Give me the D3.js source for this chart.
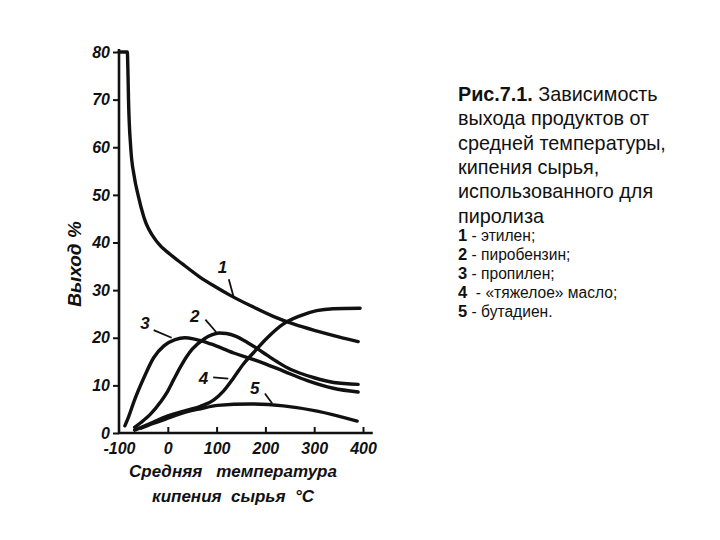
<!DOCTYPE html>
<html><head><meta charset="utf-8">
<script src="https://cdn.jsdelivr.net/npm/d3@7"></script>
<style>
body{margin:0;background:#fff;}
svg{display:block;}
.tk text{font-family:"Liberation Sans",Arial,sans-serif;font-style:italic;font-weight:bold;font-size:16px;fill:#111;}
</style></head>
<body><svg id="c" width="720" height="540"></svg>
<script>
// ---- data ----
const xTicks = [-100, 0, 100, 200, 300, 400];
const yTicks = [0, 10, 20, 30, 40, 50, 60, 70, 80];
const ethylene = [[-100,80],[-83,80],[-81.5,75],[-80.5,70],[-76,60],[-69,54],[-61,50],[-49,45.3],[-21,40],[4,37.6],[30,35.5],[65,32.8],[101,30.5],[128,28.9],[170,26.7],[216,24.5],[260,22.8],[306,21.4],[350,20.2],[390,19.2]];
const pyrobenzine = [[-68,1.2],[-55,2.2],[-35,4],[-15,6.5],[0,8.8],[12,11.2],[26,13.9],[50,17.6],[75,19.8],[90,20.6],[105,21],[120,20.9],[140,20.3],[163,19],[185,17.6],[204,16.3],[225,14.9],[245,13.7],[270,12.6],[300,11.6],[340,10.6],[390,10.2]];
const propylene = [[-88,1.5],[-80,3.5],[-69,6.7],[-49,11.6],[-29,15.8],[-8,18.3],[15,19.6],[35,20],[55,19.7],[88,18.7],[135,16.8],[185,15.1],[237,13],[286,11],[339,9.4],[390,8.6]];
const heavyOil = [[-68,0.6],[-40,1.8],[0,3.6],[40,4.8],[67,5.6],[95,7],[114,8.8],[135,11.6],[155,14.5],[175,16.8],[204,20],[237,22.9],[271,24.6],[305,25.7],[339,26.1],[394,26.2]];
const butadiene = [[-55,1],[-30,2],[0,3.1],[40,4.5],[67,5.1],[102,5.8],[169,6.1],[237,5.7],[306,4.6],[388,2.5]];
const seriesList = [ethylene, pyrobenzine, propylene, heavyOil, butadiene];
const curveLabels = ["1","2","3","4","5"];
// annotation: label point, leader start, leader end (data coords)
const labelPos = [[112,34.5],[55,24.3],[-47,22.8],[73,11.2],[178,9.2]];
const leaderFrom = [[125,32.3],[77,23.8],[-29,21.6],[93,11.7],[199,8.3]];
const leaderTo = [[135,28.5],[99,21.2],[8,20],[124,11.4],[214,6.2]];
const yTitle = "Выход %";
const xTitle1 = "Средняя   температура";
const xTitle2 = "кипения  сырья  °С";
const captionBold = "Рис.7.1.";
const captionLines = [" Зависимость","выхода продуктов от","средней температуры,","кипения сырья,","использованного для","пиролиза"];
const legendNums = ["1","2","3","4","5"];
const legendTexts = [" - этилен;"," - пиробензин;"," - пропилен;","  - «тяжелое» масло;"," - бутадиен."];

// ---- drawing ----
const svg = d3.select("#c");
const x = d3.scaleLinear().domain([-100,400]).range([119,363]);
const y = d3.scaleLinear().domain([0,80]).range([433,52]);
const ink = "#111";

// y axis
const ya = svg.append("g").attr("class","tk").attr("transform",`translate(${x(-100)},0)`)
  .call(d3.axisLeft(y).tickValues(yTicks).tickSize(6).tickPadding(3).tickFormat(d3.format("d")));
ya.select(".domain").remove();
ya.selectAll(".tick line").attr("stroke",ink).attr("stroke-width",2);
svg.append("line").attr("x1",x(-100)).attr("x2",x(-100)).attr("y1",y(80)-3).attr("y2",y(0)+1)
  .attr("stroke",ink).attr("stroke-width",2.6);

// x axis
const xa = svg.append("g").attr("class","tk").attr("transform",`translate(0,${y(0)})`)
  .call(d3.axisBottom(x).tickValues(xTicks).tickSize(-6).tickPadding(10).tickFormat(d3.format("d")));
xa.select(".domain").remove();
xa.selectAll(".tick line").attr("stroke",ink).attr("stroke-width",2);
xa.selectAll(".tick").filter(d=>d===-100).select("line").remove();
xa.selectAll(".tick text").text(d=> d<0 ? "-"+Math.abs(d) : d);
svg.append("line").attr("x1",x(-100)-1).attr("x2",x(420)).attr("y1",y(0)).attr("y2",y(0))
  .attr("stroke",ink).attr("stroke-width",2.6);

// curves
const line = d3.line().x(d=>x(d[0])).y(d=>y(d[1])).curve(d3.curveMonotoneX);
svg.append("g").selectAll("path").data(seriesList).join("path")
  .attr("d",line).attr("fill","none").attr("stroke",ink).attr("stroke-width",3.4)
  .attr("stroke-linecap","round").attr("stroke-linejoin","round");

// annotations
svg.append("g").selectAll("line").data(curveLabels).join("line")
  .attr("x1",(d,i)=>x(leaderFrom[i][0])).attr("y1",(d,i)=>y(leaderFrom[i][1]))
  .attr("x2",(d,i)=>x(leaderTo[i][0])).attr("y2",(d,i)=>y(leaderTo[i][1]))
  .attr("stroke",ink).attr("stroke-width",1.8);
svg.append("g").selectAll("text").data(curveLabels).join("text")
  .attr("x",(d,i)=>x(labelPos[i][0])).attr("y",(d,i)=>y(labelPos[i][1]))
  .attr("text-anchor","middle").attr("dominant-baseline","middle")
  .style("font-family","Liberation Sans, Arial, sans-serif").style("font-style","italic")
  .style("font-weight","bold").style("font-size","17px").attr("fill",ink).text(d=>d);

// axis titles
svg.append("text").attr("transform","translate(81,264) rotate(-90)").attr("text-anchor","middle")
  .style("font-family","Liberation Sans, Arial, sans-serif").style("font-style","italic")
  .style("font-weight","bold").style("font-size","19px").attr("fill",ink).text(yTitle);
const xt = svg.append("g").style("font-family","Liberation Sans, Arial, sans-serif").style("font-style","italic")
  .style("font-weight","bold").style("font-size","17px").attr("fill",ink);
xt.append("text").attr("x",233).attr("y",477).attr("text-anchor","middle").style("white-space","pre")
  .attr("xml:space","preserve").text(xTitle1);
xt.append("text").attr("x",233).attr("y",502).attr("text-anchor","middle").style("white-space","pre")
  .attr("xml:space","preserve").text(xTitle2);

// caption
const cap = svg.append("g").style("font-family","Liberation Sans, Arial, sans-serif").attr("fill","#111");
captionLines.forEach((t,i)=>{
  const tx = cap.append("text").attr("x",458).attr("y",101+i*24.3).style("font-size","19.8px").style("white-space","pre").attr("xml:space","preserve");
  if(i===0){ tx.append("tspan").style("font-weight","bold").text(captionBold); }
  tx.append("tspan").text(t);
});
legendNums.forEach((n,i)=>{
  const tx = cap.append("text").attr("x",458).attr("y",241+i*19).style("font-size","15.6px").style("white-space","pre").attr("xml:space","preserve");
  tx.append("tspan").style("font-weight","bold").style("font-size","16.5px").text(n);
  tx.append("tspan").text(legendTexts[i]);
});
</script></body></html>
